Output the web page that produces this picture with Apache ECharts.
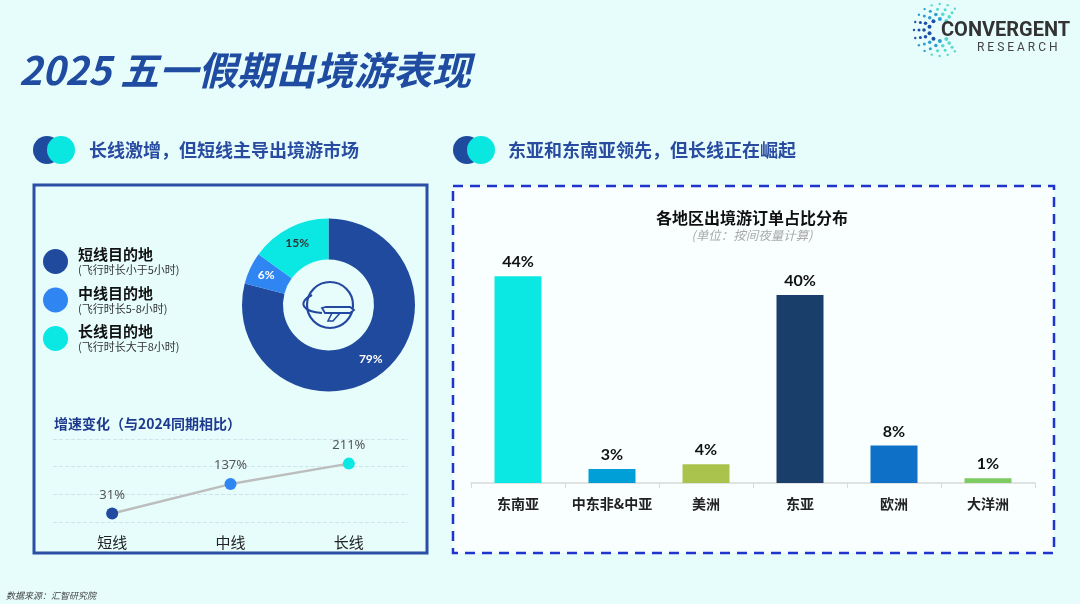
<!DOCTYPE html>
<html>
<head>
<meta charset="utf-8">
<title>2025 五一假期出境游表现</title>
<script src="https://cdn.jsdelivr.net/npm/echarts@6/dist/echarts.min.js"></script>
<style>
  html, body { margin: 0; padding: 0; background: #E6FDFC; }
  #main { width: 1080px; height: 604px; }
</style>
</head>
<body>
<div id="main"></div>
<script>
// 数据
var shareNames = ['短线目的地', '中线目的地', '长线目的地'];
var shareNotes = ['(飞行时长小于5小时)', '(飞行时长5-8小时)', '(飞行时长大于8小时)'];
var shareValues = [79, 6, 15];

var growthCats = ['短线', '中线', '长线'];
var growthValues = [31, 137, 211];
var growthTicks = [0, 300, 100]; // min, max, interval

var regionNames = ['东南亚', '中东非&中亚', '美洲', '东亚', '欧洲', '大洋洲'];
var regionValues = [44, 3, 4, 40, 8, 1];

// 配色
var shareColors = ['#204A9E', '#2F86F2', '#0BE8E4'];
var regionColors = ['#0BE8E4', '#009FD8', '#A9C34C', '#1A3E6A', '#0F70C7', '#7DCB62'];
var CJK = '"Noto Sans CJK SC", "Noto Sans", sans-serif';
var NUM = 'Lato, "Noto Sans CJK SC", sans-serif';

var myChart = echarts.init(document.getElementById('main'));

function txt(text, x, y, size, opts) {
    opts = opts || {};
    return {
        type: 'text',
        x: x,
        y: y,
        z: 10,
        style: {
            text: text,
            fontSize: size,
            fontFamily: opts.family || CJK,
            fontWeight: opts.weight || 'normal',
            fontStyle: opts.italic ? 'italic' : 'normal',
            fill: opts.color || '#222',
            textAlign: opts.align || 'left',
            textVerticalAlign: 'middle'
        }
    };
}

function headerDots(cx, cy) {
    return [
        { type: 'circle', z: 5, shape: { cx: cx, cy: cy, r: 14 }, style: { fill: '#1F4B9E' } },
        { type: 'circle', z: 6, shape: { cx: cx + 14, cy: cy, r: 14 }, style: { fill: '#0AE6E0' } }
    ];
}

// logo 点阵
function logoDots(cx, cy) {
    var out = [];
    var rings = [{ r: 11, n: 8, s: 2 }, { r: 16, n: 11, s: 1.8 }, { r: 21, n: 13, s: 1.5 }, { r: 26, n: 15, s: 1.2 }];
    rings.forEach(function (ring, ri) {
        for (var i = 0; i < ring.n; i++) {
            var deg = 55 + (250 * i) / (ring.n - 1);
            var a = deg * Math.PI / 180;
            var t = Math.min(1, Math.abs(deg - 180) / 130 + ri * 0.12);
            var c = t < 0.5 ? '#1F4FA8' : (t < 0.8 ? '#2E9FD0' : '#58D8CF');
            out.push({
                type: 'circle',
                z: 5,
                shape: { cx: cx + ring.r * Math.cos(a), cy: cy - ring.r * Math.sin(a), r: ring.s },
                style: { fill: c }
            });
        }
    });
    return out;
}

var graphics = [
    // 左框
    { type: 'rect', z: 0, shape: { x: 34, y: 185, width: 393, height: 368 },
      style: { fill: 'rgba(0,0,0,0)', stroke: '#2A4FA5', lineWidth: 3 } },
    // 右框
    { type: 'rect', z: 0, shape: { x: 453, y: 186, width: 601, height: 367 },
      style: { fill: '#F9FFFF', stroke: '#1E34CC', lineWidth: 2.5, lineDash: [10, 7] } },

    txt('2025 五一假期出境游表现', 19, 70, 39, { weight: 'bold', italic: true, color: '#1F4BA0' }),
    txt('长线激增，但短线主导出境游市场', 89, 150, 18, { weight: 'bold', color: '#2A4CA0' }),
    txt('东亚和东南亚领先，但长线正在崛起', 508, 150, 18, { weight: 'bold', color: '#2A4CA0' }),
    txt('增速变化（与2024同期相比）', 54, 424, 14, { weight: 'bold', color: '#1E3A8F' }),
    txt('各地区出境游订单占比分布', 752, 218, 16, { weight: 'bold', color: '#111', align: 'center' }),
    txt('(单位：按间夜量计算)', 752, 235, 12.5, { italic: true, color: '#AAAAAA', align: 'center' }),
    txt('数据来源：汇智研究院', 6, 596, 9, { italic: true, color: '#444' }),

    txt('CONVERGENT', 941, 31, 20, { weight: 'bold', color: '#333', family: 'Roboto, sans-serif' }),
    txt('R E S E A R C H', 977, 48, 12, { color: '#444', family: 'Roboto, sans-serif' }),

    // 中心飞机图标
    { type: 'group', x: 330, y: 305, z: 10, children: [
        { type: 'circle', shape: { cx: 0, cy: 0, r: 23 }, style: { fill: 'none', stroke: '#2448A0', lineWidth: 2.2 } },
        { type: 'bezierCurve', shape: { x1: -18, y1: -10, cpx1: -34, cpy1: -2, cpx2: -26, cpy2: 7, x2: -8, y2: 8 },
          style: { fill: 'none', stroke: '#2448A0', lineWidth: 2 } },
        { type: 'polygon', shape: { points: [[-8, 3], [-5, 8], [20, 8], [24, 5], [20, 2], [-4, 2]] },
          style: { fill: '#E6FDFC', stroke: '#2448A0', lineWidth: 1.8 } },
        { type: 'polyline', shape: { points: [[2, 8], [-2, 16], [3, 16], [10, 8]] },
          style: { fill: 'none', stroke: '#2448A0', lineWidth: 1.6 } }
    ] }
];
graphics = graphics.concat(headerDots(47, 150), headerDots(467, 150), logoDots(940, 30));

var option = {
    backgroundColor: '#E6FDFC',
    animation: false,
    textStyle: { fontFamily: CJK },
    graphic: { elements: graphics },
    legend: {
        orient: 'vertical',
        left: 43,
        top: 247,
        padding: 0,
        itemWidth: 25,
        itemHeight: 25,
        itemGap: 10,
        icon: 'circle',
        selectedMode: false,
        data: shareNames,
        formatter: function (name) {
            return '{a|' + name + '}\n{b|' + shareNotes[shareNames.indexOf(name)] + '}';
        },
        textStyle: {
            rich: {
                a: { fontSize: 15, fontWeight: 'bold', color: '#111', lineHeight: 17, padding: [0, 0, 0, 5] },
                b: { fontSize: 11, color: '#333', lineHeight: 14, padding: [0, 0, 0, 5] }
            }
        }
    },
    grid: [
        { left: 53, width: 355, top: 439, height: 83 },
        { left: 471, right: 45, top: 248, height: 235 }
    ],
    xAxis: [
        {
            gridIndex: 0,
            type: 'category',
            data: growthCats,
            axisLine: { show: false },
            axisTick: { show: false },
            axisLabel: { fontSize: 15, color: '#222', margin: 13 }
        },
        {
            gridIndex: 1,
            type: 'category',
            data: regionNames,
            axisLine: { lineStyle: { color: '#D9D9D9', width: 1.5 } },
            axisTick: { show: true, length: 5, lineStyle: { color: '#D9D9D9' } },
            axisLabel: { interval: 0, fontSize: 14, fontWeight: 'bold', color: '#222', margin: 14 }
        }
    ],
    yAxis: [
        {
            gridIndex: 0,
            type: 'value',
            min: growthTicks[0],
            max: growthTicks[1],
            interval: growthTicks[2],
            axisLine: { show: false },
            axisTick: { show: false },
            axisLabel: { show: false },
            splitLine: { lineStyle: { color: '#CFE3EA', type: 'dashed' } }
        },
        {
            gridIndex: 1,
            type: 'value',
            min: 0,
            max: 50,
            show: false
        }
    ],
    series: [
        {
            type: 'pie',
            center: [328.5, 305],
            radius: [45.5, 86.5],
            startAngle: 90,
            silent: true,
            labelLine: { show: false },
            label: {
                show: true,
                position: 'inside',
                formatter: '{c}%',
                fontSize: 12,
                fontWeight: 'bold',
                fontFamily: NUM,
                color: '#fff'
            },
            data: shareNames.map(function (n, i) {
                var d = { name: n, value: shareValues[i], itemStyle: { color: shareColors[i] } };
                if (i === 2) d.label = { color: '#333' };
                return d;
            })
        },
        {
            type: 'line',
            xAxisIndex: 0,
            yAxisIndex: 0,
            symbol: 'circle',
            symbolSize: 12,
            silent: true,
            lineStyle: { color: '#BDBDBD', width: 2.5 },
            label: {
                show: true,
                position: 'top',
                distance: 6,
                formatter: '{c}%',
                fontSize: 13,
                fontFamily: '"Noto Sans", sans-serif',
                color: '#555'
            },
            data: growthValues.map(function (v, i) {
                return { value: v, itemStyle: { color: shareColors[i] } };
            })
        },
        {
            type: 'bar',
            xAxisIndex: 1,
            yAxisIndex: 1,
            barWidth: '50%',
            silent: true,
            label: {
                show: true,
                position: 'top',
                distance: 6,
                formatter: '{c}%',
                fontSize: 16,
                fontWeight: 'bold',
                fontFamily: NUM,
                color: '#111'
            },
            data: regionValues.map(function (v, i) {
                return { value: v, itemStyle: { color: regionColors[i] } };
            })
        }
    ]
};

myChart.setOption(option);
window.addEventListener('resize', function () {
    myChart.resize();
});
</script>
</body>
</html>
